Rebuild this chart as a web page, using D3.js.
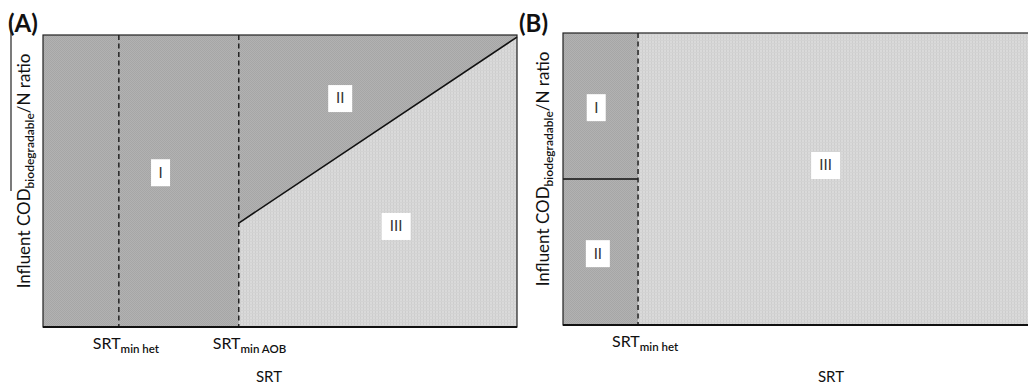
<!DOCTYPE html>
<html>
<head>
<meta charset="utf-8">
<script src="https://cdn.jsdelivr.net/npm/d3@7"></script>
<style>
  body { margin: 0; background: #fff; }
  svg text { font-family: Lato, "Open Sans", sans-serif; fill: #111; }
</style>
</head>
<body>
<div id="chart"></div>
<script>
// SRT and COD/N are both on a 0-100 relative scale
var srtMinHet = 16, srtMinAOB = 41.3;
var boundaryA = [[41.3, 35.6], [100, 99.3]];   // line between II and III in panel A
var boundaryB = [[0, 50], [14, 50]];           // line between I and II in panel B
var dashedA = [srtMinHet, srtMinAOB];
var dashedB = [14];
var tickLabelsA = [{ x: srtMinHet, main: "SRT", sub: "min het" }, { x: srtMinAOB, main: "SRT", sub: "min AOB" }];
var tickLabelsB = [{ x: 14, main: "SRT", sub: "min het" }];
var regionLabelsA = [{ name: "I", x: 24.8, y: 53 }, { name: "II", x: 62.7, y: 78.4 }, { name: "III", x: 74.5, y: 34.6 }];
var regionLabelsB = [{ name: "I", x: 6.2, y: 74.6 }, { name: "II", x: 6.5, y: 24.6 }, { name: "III", x: 49, y: 54.8 }];

var W = 1028, H = 386;
var svg = d3.select("#chart").append("svg").attr("width", W).attr("height", H);

// textures
var defs = svg.append("defs");
var pd = defs.append("pattern").attr("id", "dark").attr("width", 2).attr("height", 2).attr("patternUnits", "userSpaceOnUse");
pd.append("rect").attr("width", 2).attr("height", 2).attr("fill", "#b2b2b2");
pd.append("rect").attr("width", 1).attr("height", 1).attr("fill", "#a6a6a6");
pd.append("rect").attr("x", 1).attr("y", 1).attr("width", 1).attr("height", 1).attr("fill", "#a6a6a6");
var pl = defs.append("pattern").attr("id", "light").attr("width", 3).attr("height", 3).attr("patternUnits", "userSpaceOnUse");
pl.append("rect").attr("width", 3).attr("height", 3).attr("fill", "#dadada");
pl.append("rect").attr("width", 1).attr("height", 3).attr("fill", "#cdcdcd");
pl.append("rect").attr("y", 1).attr("width", 3).attr("height", 1).attr("fill", "#d3d3d3");

function panel(opt) {
  var x = d3.scaleLinear().domain([0, 100]).range([opt.left, opt.right]);
  var y = d3.scaleLinear().domain([0, 100]).range([opt.bottom, opt.top]);
  var g = svg.append("g");

  // dark background (regions I / II), light region III as polygon
  g.append("rect").attr("x", x(0)).attr("y", y(100))
    .attr("width", x(100) - x(0)).attr("height", y(0) - y(100))
    .attr("fill", "url(#dark)");
  var line = d3.line().x(function (d) { return x(d[0]); }).y(function (d) { return y(d[1]); });
  g.append("path").attr("d", line(opt.light)).attr("fill", "url(#light)");

  // boundary
  g.append("path").attr("d", line(opt.boundary)).attr("fill", "none")
    .attr("stroke", "#111").attr("stroke-width", 1.6);

  // dashed SRT lines
  g.selectAll(".dash").data(opt.dashed).enter().append("line")
    .attr("x1", function (d) { return x(d); }).attr("x2", function (d) { return x(d); })
    .attr("y1", y(100)).attr("y2", y(0))
    .attr("stroke", "#222").attr("stroke-width", 1.5).attr("stroke-dasharray", "5,3.5");

  // frame
  g.append("rect").attr("x", x(0)).attr("y", y(100))
    .attr("width", x(100) - x(0)).attr("height", y(0) - y(100))
    .attr("fill", "none").attr("stroke", "#222").attr("stroke-width", 1.2);
  g.append("line").attr("x1", x(0)).attr("x2", x(100)).attr("y1", y(0)).attr("y2", y(0))
    .attr("stroke", "#111").attr("stroke-width", 2.2);

  // region labels
  var lab = g.selectAll(".reg").data(opt.regions).enter().append("g")
    .attr("transform", function (d) { return "translate(" + x(d.x) + "," + y(d.y) + ")"; });
  lab.append("rect")
    .attr("x", function (d) { return -(7 + d.name.length * 2.5); })
    .attr("width", function (d) { return 14 + d.name.length * 5; })
    .attr("y", -13).attr("height", 27).attr("fill", "#fff");
  lab.append("text").attr("text-anchor", "middle").attr("dy", "0.36em")
    .style("font-size", "15px").style("fill", "#333").text(function (d) { return d.name; });

  // tick labels
  var tl = g.selectAll(".tl").data(opt.ticks).enter().append("text")
    .attr("x", function (d) { return x(d.x) - 26; }).attr("y", opt.bottom + 22)
    .style("font-size", "16px");
  tl.append("tspan").text(function (d) { return d.main; });
  tl.append("tspan").attr("dy", 4).style("font-size", "11.5px").style("font-weight", 600)
    .text(function (d) { return d.sub; });

  // axis title
  g.append("text").attr("x", opt.titleX).attr("y", 382).attr("text-anchor", "middle")
    .style("font-size", "15px").text("SRT");

  // y label
  var yl = g.append("text").attr("transform", "translate(" + opt.ylX + "," + ((opt.top + opt.bottom) / 2 - 10) + ") rotate(-90)")
    .attr("text-anchor", "middle").style("font-size", "17px");
  yl.append("tspan").text("Influent COD");
  yl.append("tspan").attr("dy", 4).style("font-size", "12px").style("font-weight", 600).text("biodegradable");
  yl.append("tspan").attr("dy", -4).text("/N ratio");

  // panel tag
  g.append("text").attr("x", opt.tagX).attr("y", 32).style("font-size", "24px").style("font-weight", "bold").text(opt.tag);
  return g;
}

panel({
  left: 43, right: 517, top: 35, bottom: 327, tag: "(A)", tagX: 8, titleX: 269, ylX: 30,
  light: [[41.3, 0], [41.3, 35.6], [100, 99.3], [100, 0]],
  boundary: boundaryA, dashed: dashedA, ticks: tickLabelsA, regions: regionLabelsA
});
panel({
  left: 563, right: 1099, top: 33, bottom: 325, tag: "(B)", tagX: 519, titleX: 831, ylX: 549,
  light: [[14, 0], [14, 100], [100, 100], [100, 0]],
  boundary: boundaryB, dashed: dashedB, ticks: tickLabelsB, regions: regionLabelsB
});

// stray overline of the panel A axis label
svg.append("line").attr("x1", 11).attr("x2", 11).attr("y1", 22).attr("y2", 191)
  .attr("stroke", "#222").attr("stroke-width", 1.2);
</script>
</body>
</html>
